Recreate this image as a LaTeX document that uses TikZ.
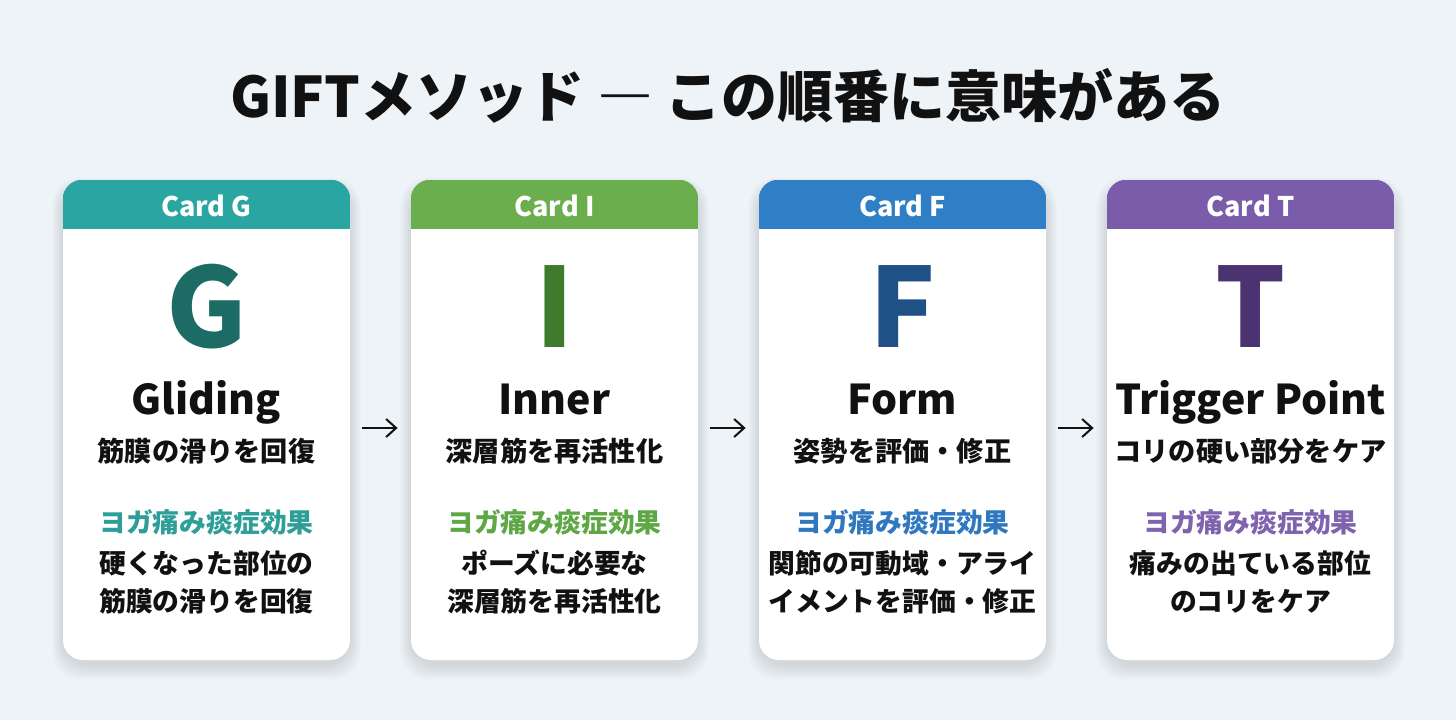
\documentclass[tikz,border=0pt]{standalone}
\usepackage{fontspec}
\setmainfont{Noto Sans CJK JP}
\usetikzlibrary{arrows.meta}
\definecolor{bgc}{HTML}{EEF3F7}
\definecolor{hdG}{HTML}{2AA6A2}
\definecolor{letG}{HTML}{1D6B65}
\definecolor{labG}{HTML}{2E9E99}
\definecolor{hdI}{HTML}{6AAE4E}
\definecolor{letI}{HTML}{3F7B2D}
\definecolor{labI}{HTML}{5EA745}
\definecolor{hdF}{HTML}{2E7FC5}
\definecolor{letF}{HTML}{1F5086}
\definecolor{labF}{HTML}{2F78BF}
\definecolor{hdT}{HTML}{7A5CAA}
\definecolor{letT}{HTML}{4B3372}
\definecolor{labT}{HTML}{7F63AE}
\definecolor{ink}{HTML}{111111}
\tikzset{
  cardbox/.style={fill=white, rounded corners=10pt, minimum width=143.5pt, minimum height=240pt, inner sep=0pt},
  titletext/.style={font=\bfseries\fontsize{28}{32}\selectfont, text=ink, anchor=base, inner sep=0pt},
  hdtext/.style={font=\bfseries\fontsize{13.5}{15}\selectfont, text=white, anchor=base, inner sep=0pt},
  lettertext/.style={font=\bfseries\fontsize{55}{60}\selectfont, anchor=base, inner sep=0pt},
  nametext/.style={font=\bfseries\fontsize{20.5}{24}\selectfont, text=ink, anchor=base, inner sep=0pt},
  subtext/.style={font=\bfseries\fontsize{13.6}{15}\selectfont, text=ink, inner sep=0pt},
  labtext/.style={font=\bfseries\fontsize{13.4}{15}\selectfont, inner sep=0pt},
  bodytext/.style={font=\bfseries\fontsize{13.4}{15}\selectfont, text=ink, inner sep=0pt},
  arr/.style={-{Straight Barb[length=5pt,width=9pt]}, line width=1pt, draw=ink, shorten <=6pt, shorten >=6.5pt},
}
\begin{document}
\begin{tikzpicture}[x=0.5pt,y=-0.5pt]
\useasboundingbox (0,0) rectangle (1456,720);
\fill[bgc] (0,0) rectangle (1456,720);
\node[titletext] (title) at (728,117) {GIFTメソッド ― この順番に意味がある};
\foreach \n/\cx/\hc/\lc/\tc/\hd/\L/\nm/\sb/\la/\lb in {
  g/206.5/hdG/letG/labG/Card G/G/Gliding/筋膜の滑りを回復/硬くなった部位の/筋膜の滑りを回復,
  i/554.5/hdI/letI/labI/Card I/I/Inner/深層筋を再活性化/ポーズに必要な/深層筋を再活性化,
  f/902.5/hdF/letF/labF/Card F/F/Form/姿勢を評価・修正/関節の可動域・アライ/イメントを評価・修正,
  t/1250.5/hdT/letT/labT/Card T/T/Trigger Point/コリの硬い部分をケア/痛みの出ている部位/のコリをケア}{
  \foreach \k in {1,...,7}{
    \fill[black, opacity=0.014, rounded corners=14pt] (\cx-143.5-\k*1.5, 186-\k*1.2) rectangle (\cx+143.5+\k*1.5, 664+\k*2.2);
  }
  \node[cardbox] (\n) at (\cx,420) {};
  \begin{scope}
    \clip[rounded corners=10pt] (\n.north west) rectangle (\n.south east);
    \fill[\hc] (\n.north west) rectangle ([yshift=-24.5pt]\n.north east);
  \end{scope}
  \node[hdtext] (\n-h) at (\cx,216) {\hd};
  \node[lettertext, text=\lc] (\n-l) at (\cx,347) {\L};
  \node[nametext] (\n-n) at (\cx,414) {\nm};
  \node[subtext] (\n-s) at (\cx,451) {\sb};
  \node[labtext, text=\tc] (\n-t) at (\cx,522) {ヨガ痛み痰症効果};
  \node[bodytext] (\n-a) at (\cx,563) {\la};
  \node[bodytext] (\n-b) at (\cx,601) {\lb};
}
\draw[arr] ([yshift=-4pt]g.east) -- ([yshift=-4pt]i.west);
\draw[arr] ([yshift=-4pt]i.east) -- ([yshift=-4pt]f.west);
\draw[arr] ([yshift=-4pt]f.east) -- ([yshift=-4pt]t.west);
\end{tikzpicture}
\end{document}
